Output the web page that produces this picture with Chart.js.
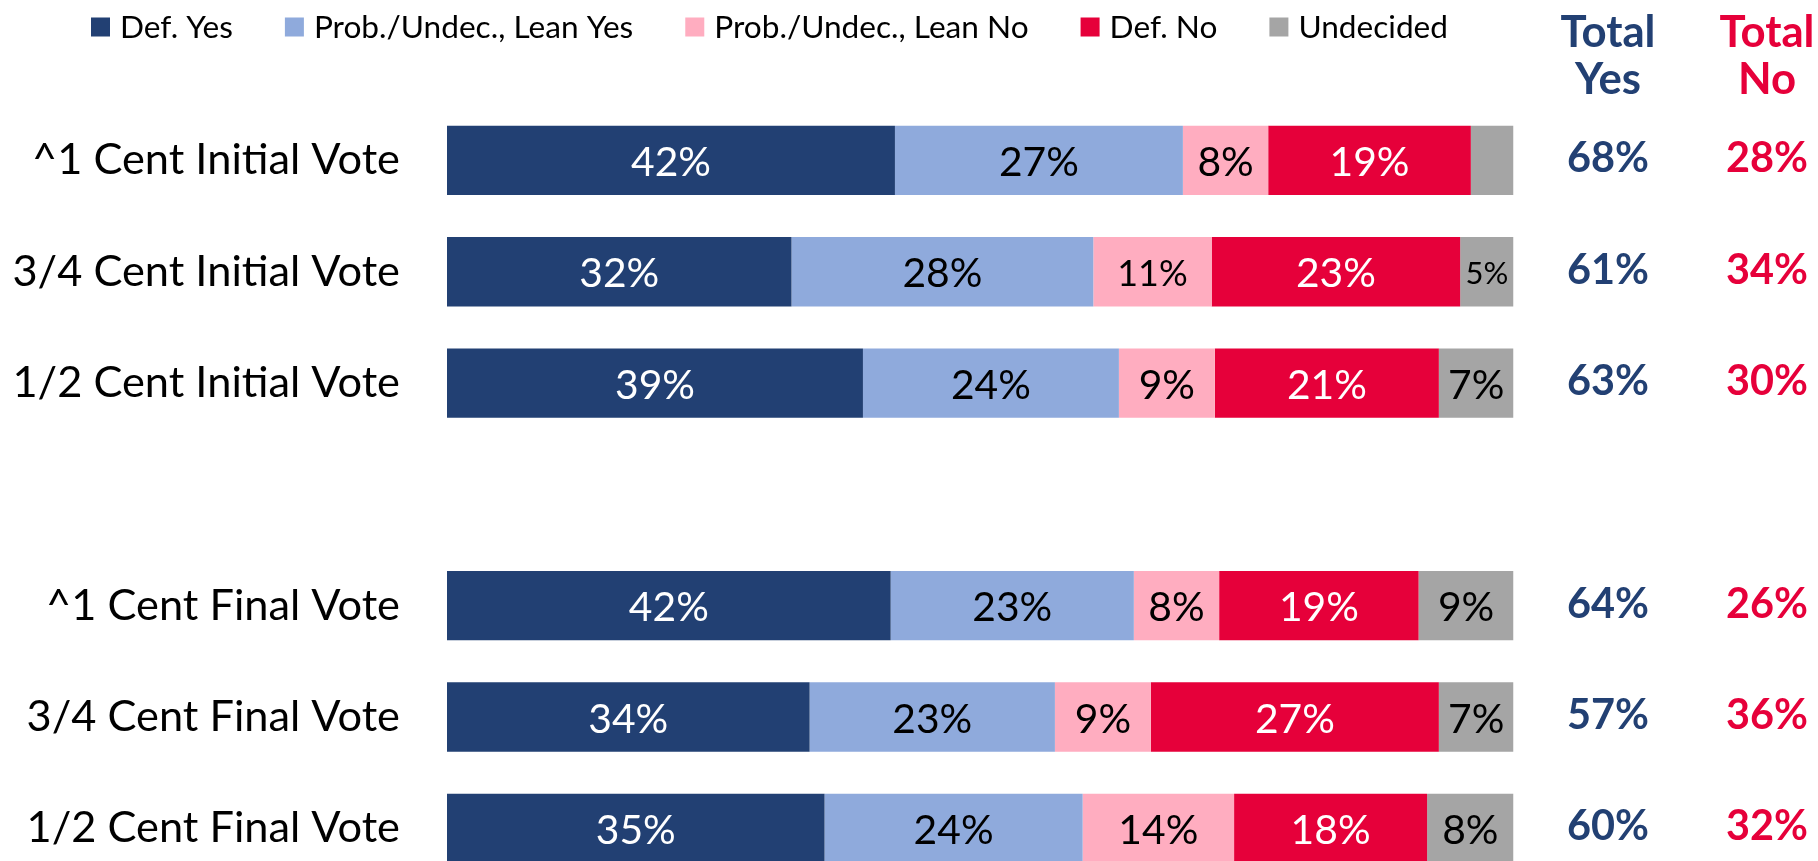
<!DOCTYPE html>
<html><head><meta charset="utf-8">
<script src="https://cdn.jsdelivr.net/npm/chart.js@4.4.1/dist/chart.umd.min.js"></script>
<style>
html,body{margin:0;padding:0;background:#fff;overflow:hidden;width:1818px;height:861px;}
#wrap{position:relative;width:1818px;height:884px;}
</style></head><body>
<div id="wrap"><canvas id="c" width="1818" height="884"></canvas></div>
<script>
// ---- data ----
const categories = ["^1 Cent Initial Vote","3/4 Cent Initial Vote","1/2 Cent Initial Vote","","^1 Cent Final Vote","3/4 Cent Final Vote","1/2 Cent Final Vote"];
const seriesNames = ["Def. Yes","Prob./Undec., Lean Yes","Prob./Undec., Lean No","Def. No","Undecided"];
const defYes    = [42.0, 32.3, 39.0, null, 41.6, 34.0, 35.4];
const leanYes   = [27.0, 28.3, 24.0, null, 22.8, 23.0, 24.2];
const leanNo    = [ 8.0, 11.1,  9.0, null,  8.0,  9.0, 14.2];
const defNo     = [19.0, 23.3, 21.0, null, 18.7, 27.0, 18.1];
const undecided = [ 4.0,  5.0,  7.0, null,  8.9,  7.0,  8.1];
const totalYes  = [68, 61, 63, null, 64, 57, 60];
const totalNo   = [28, 34, 30, null, 26, 36, 32];
const totalYesHeader = ["Total","Yes"];
const totalNoHeader  = ["Total","No"];

// ---- style ----
const seriesValues = [defYes, leanYes, leanNo, defNo, undecided];
const colors = ["#224073", "#8FAADC", "#FFADC0", "#E6003A", "#A5A5A5"];
const labelColors = ["#FFFFFF", "#000000", "#000000", "#FFFFFF", "#000000"];
const navy = "#224073", red = "#E6003A";
const labelScale = {"1,2": 0.88, "1,4": 0.76};
const FAM = "Lato";

const mctx = document.createElement('canvas').getContext('2d');
function fit(text, weight, target){
  mctx.font = weight + " 100px " + FAM;
  return 100 * target / mctx.measureText(text).width;
}
const axisSize   = fit("^1 Cent Initial Vote", "normal", 368);
const dataSize   = fit("42%", "normal", 80);
const legendSize = (fit("Def. Yes", "normal", 111) + fit("Prob./Undec., Lean Yes", "normal", 325)) / 2;
const totalSize  = fit("68%", "bold", 82);
const headSize   = fit("Total", "bold", 95);

const barLabels = {
  id: 'barLabels',
  afterDatasetsDraw(chart){
    const ctx = chart.ctx;
    chart.data.datasets.forEach((ds, d) => {
      const meta = chart.getDatasetMeta(d);
      meta.data.forEach((el, i) => {
        const v = ds.data[i];
        if (v == null || v < 4.5) return;
        const size = dataSize * (labelScale[i + ',' + d] || 1);
        ctx.save();
        ctx.font = size + "px " + FAM;
        ctx.fillStyle = labelColors[d];
        ctx.textAlign = 'center';
        ctx.textBaseline = 'alphabetic';
        ctx.fillText(Math.round(v) + '%', (el.x + el.base) / 2, el.y + 1 + size * 0.358);
        ctx.restore();
      });
    });
  }
};

const totalsPlugin = {
  id: 'totals',
  afterDatasetsDraw(chart){
    const ctx = chart.ctx;
    const y = chart.scales.y;
    const cols = [[1608, totalYes, totalYesHeader, navy], [1767, totalNo, totalNoHeader, red]];
    ctx.save();
    ctx.textAlign = 'center';
    ctx.textBaseline = 'alphabetic';
    cols.forEach(([x, vals, head, col]) => {
      ctx.fillStyle = col;
      ctx.font = "bold " + headSize + "px " + FAM;
      ctx.fillText(head[0], x, 47);
      ctx.fillText(head[1], x, 93.5);
      ctx.font = "bold " + totalSize + "px " + FAM;
      vals.forEach((v, i) => {
        if (v == null) return;
        const py = y.getPixelForValue(i);
        ctx.fillText(v + '%', x, py - 3 + totalSize * 0.358);
      });
    });
    ctx.restore();
  }
};

const legendPlugin = {
  id: 'customLegend',
  afterDraw(chart){
    const ctx = chart.ctx;
    ctx.save();
    ctx.font = legendSize + "px " + FAM;
    ctx.textBaseline = 'alphabetic';
    ctx.textAlign = 'left';
    let x = 91;
    chart.data.datasets.forEach(ds => {
      ctx.fillStyle = ds.backgroundColor;
      ctx.fillRect(x, 17.5, 19, 19);
      x += 19 + 10;
      ctx.fillStyle = '#000';
      ctx.fillText(ds.label, x, 27 + legendSize * 0.358);
      x += ctx.measureText(ds.label).width + 52;
    });
    ctx.restore();
  }
};

new Chart(document.getElementById('c'), {
  type: 'bar',
  data: {
    labels: categories,
    datasets: seriesValues.map((vals, d) => ({
      label: seriesNames[d],
      data: vals,
      backgroundColor: colors[d],
      borderWidth: 0,
      categoryPercentage: 1,
      barPercentage: 0.623
    }))
  },
  options: {
    indexAxis: 'y',
    responsive: false,
    animation: false,
    devicePixelRatio: 1,
    layout: { padding: { left: 0, right: 304.5, top: 104.75, bottom: 0 } },
    plugins: { legend: { display: false }, tooltip: { enabled: false } },
    scales: {
      x: { stacked: true, display: false, min: 0, max: 100 },
      y: {
        stacked: true,
        grid: { display: false, drawTicks: false },
        border: { display: false },
        ticks: { padding: 47, color: '#000', font: { family: FAM, size: axisSize } },
        afterFit(s){ s.width = 447; s.paddingTop = 0; s.paddingBottom = 0; }
      }
    }
  },
  plugins: [barLabels, totalsPlugin, legendPlugin]
});
</script>
</body></html>
